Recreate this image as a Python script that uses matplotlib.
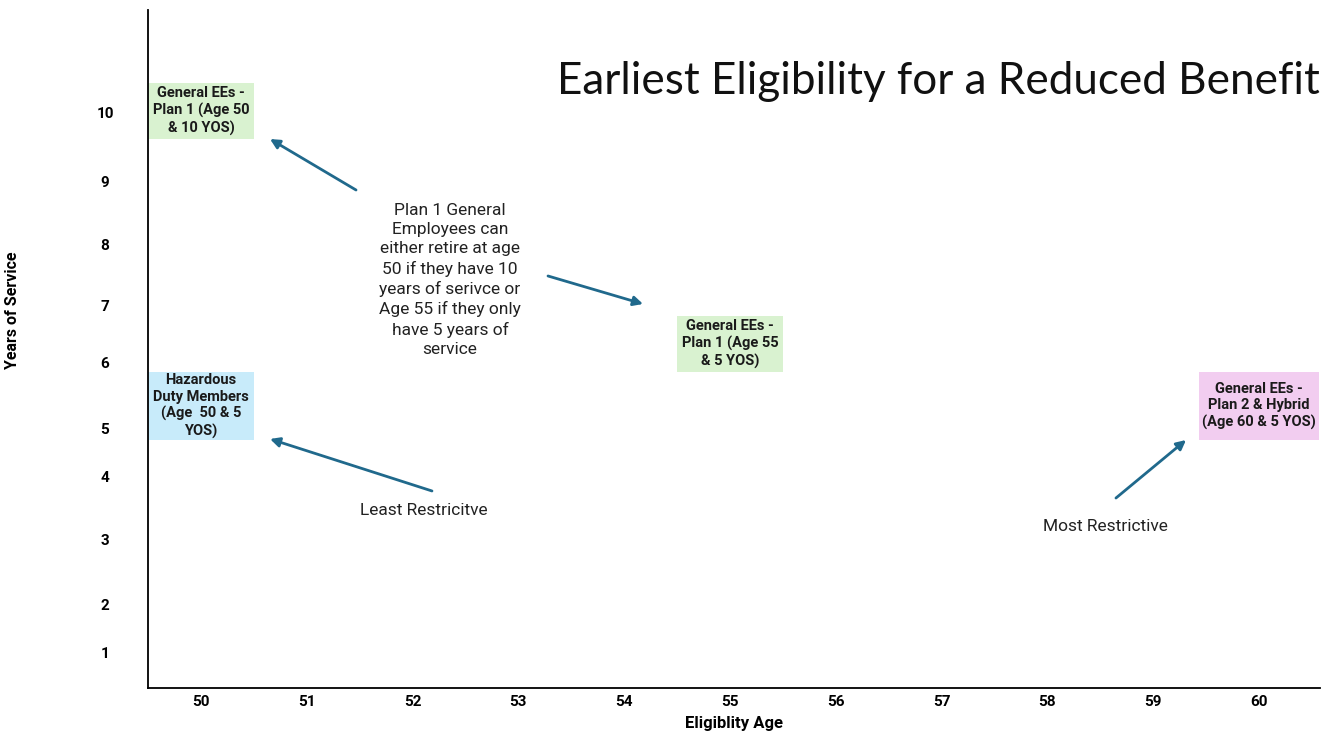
import numpy as np
import matplotlib
matplotlib.use("Agg")
import matplotlib.pyplot as plt

# tick values and where they sit on the (uneven) y axis
ytick_vals = [0, 1, 2, 3, 4, 5, 6, 7, 8, 9, 10, 11.7]
ytick_pos = [0, 0.6, 1.4, 2.467, 3.517, 4.317, 5.433, 6.383, 7.4, 8.45, 9.6, 11.3]
xticks = list(range(50, 61))

# groups drawn as boxes
labels = ["General EEs -\nPlan 1 (Age 50\n& 10 YOS)",
          "Hazardous\nDuty Members\n(Age  50 & 5\nYOS)",
          "General EEs -\nPlan 1 (Age 55\n& 5 YOS)",
          "General EEs -\nPlan 2 & Hybrid\n(Age 60 & 5 YOS)"]
ages = [50, 50, 55, 60]
box_bottom = [9.61, 4.77, 5.85, 4.77]
box_top = [10.48, 5.85, 6.81, 5.85]
box_width = [1.0, 1.0, 1.0, 1.14]
box_colors = ["#d9f2d0", "#c8ebfa", "#d9f2d0", "#f2cdf0"]

note = ("Plan 1 General\nEmployees can\neither retire at age\n50 if they have 10\n"
        "years of serivce or\nAge 55 if they only\nhave 5 years of\nservice")
arrow_col = "#20698c"


def fwd(v):
    return np.interp(v, ytick_vals, ytick_pos)


def inv(p):
    return np.interp(p, ytick_pos, ytick_vals)


fig = plt.figure(figsize=(13.25, 7.33), dpi=100)
ax = fig.add_axes([148 / 1325, 1 - 688 / 733, 1172 / 1325, 678 / 733])
ax.set_yscale("function", functions=(fwd, inv))
ax.set_xlim(49.5, 60.576)
ax.set_ylim(0, 11.7)

for s in ["top", "right"]:
    ax.spines[s].set_visible(False)
for s in ["left", "bottom"]:
    ax.spines[s].set_linewidth(1.3)

ax.set_xticks(xticks)
ax.set_yticks(range(1, 11))
ax.set_yticklabels([str(i) for i in range(1, 11)], ha="center")
ax.tick_params(axis="y", length=0, pad=31)
ax.tick_params(axis="x", length=0, pad=5)
for lab in ax.get_xticklabels() + ax.get_yticklabels():
    lab.set_fontweight("bold")
    lab.set_fontsize(11)
    lab.set_fontfamily("Roboto")

ax.bar(ages, np.array(box_top) - np.array(box_bottom), bottom=box_bottom,
       width=box_width, color=box_colors, zorder=2)
for a, b, t, lab in zip(ages, box_bottom, box_top, labels):
    mid = inv((fwd(b) + fwd(t)) / 2)
    ax.text(a, mid, lab, ha="center", va="center", fontsize=10.5,
            fontweight="bold", family="Roboto", color="#1a1a1a",
            linespacing=1.22, zorder=3)

ax.text(0.2577, 0.6018, note, transform=ax.transAxes, ha="center", va="center",
        fontsize=12.5, family="Roboto", color="#222222", linespacing=1.34)
ax.text(0.2355, 0.2625, "Least Restricitve", transform=ax.transAxes,
        ha="center", va="center", fontsize=12.5, family="Roboto", color="#222222")
ax.text(0.8166, 0.2389, "Most Restrictive", transform=ax.transAxes,
        ha="center", va="center", fontsize=12.5, family="Roboto", color="#222222")

arrows = [((0.1775, 0.7345), (0.1041, 0.8097)),
          ((0.3413, 0.6077), (0.4224, 0.5664)),
          ((0.2423, 0.2906), (0.1041, 0.3673)),
          ((0.8259, 0.2802), (0.8857, 0.3658))]
for tail, head in arrows:
    ax.annotate("", xy=head, xytext=tail, xycoords="axes fraction",
                textcoords="axes fraction",
                arrowprops=dict(arrowstyle="-|>", color=arrow_col, lw=2,
                                mutation_scale=14, shrinkA=0, shrinkB=0))

ax.set_xlabel("Eligiblity Age", fontsize=12, fontweight="bold", family="Roboto")
ax.xaxis.set_label_coords(0.5, -0.041)
ax.set_ylabel("Years of Service", fontsize=11.5, fontweight="bold", family="Roboto")
ax.yaxis.set_label_coords(-0.109, 0.5575)

fig.text(1320 / 1325, 1 - 81 / 733, "Earliest Eligibility for a Reduced Benefit",
         ha="right", va="center", fontsize=31.7, family="Lato", color="#111111")

fig.savefig("out.png", dpi=100)
